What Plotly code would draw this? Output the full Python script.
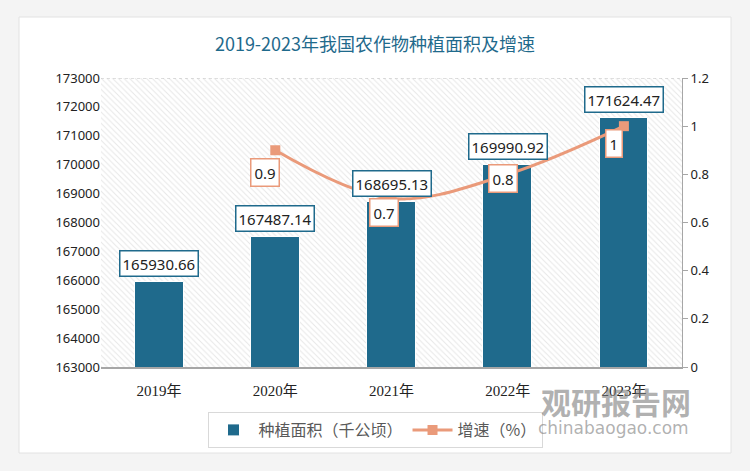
import plotly.graph_objects as go

years = ["2019年", "2020年", "2021年", "2022年", "2023年"]
area = [165930.66, 167487.14, 168695.13, 169990.92, 171624.47]
growth = [None, 0.9, 0.7, 0.8, 1]

area_name = "种植面积（千公顷）"
growth_name = "增速（%）"
title = "2019-2023年我国农作物种植面积及增速"

BLUE = "#1F6A8C"
ORANGE = "#EA9A7A"
FONT = "Noto Sans CJK SC"

# label offsets (pixels) for growth labels
g_dx = [0, -10, -8, -5, -10]
g_dy = [0, -22, -14, -4, -17]

L, R, T, B = 101, 68, 78, 104
W, H = 750, 471
pw, ph = W - L - R, H - T - B

def px(x):
    return (x - L) / pw

def py(y):
    return (H - B - y) / ph

fig = go.Figure()

# hatched plot background
fig.add_trace(go.Bar(
    x=[0.5], y=[1], width=[1], xaxis="x", yaxis="y",
    marker=dict(color="white", line=dict(width=0),
                pattern=dict(shape="\\", fgcolor="#cfcfcf", bgcolor="white", size=4, solidity=0.25)),
    showlegend=False, hoverinfo="skip",
))

fig.add_trace(go.Bar(
    x=years, y=area, name=area_name, xaxis="x2", yaxis="y2",
    width=0.42, marker=dict(color=BLUE, line=dict(color="white", width=1)),
))

fig.add_trace(go.Scatter(
    x=years, y=growth, name=growth_name, xaxis="x2", yaxis="y3",
    mode="lines+markers", line=dict(color=ORANGE, width=3, shape="spline"),
    marker=dict(symbol="square", size=10, color=ORANGE),
    connectgaps=False,
))

annotations = []
for yr, v in zip(years, area):
    annotations.append(dict(
        x=yr, y=v, xref="x2", yref="y2", text=f"{v:.2f}", showarrow=False,
        yanchor="bottom", yshift=5, font=dict(family="Noto Sans", size=15, color="#222"),
        bgcolor="white", bordercolor=BLUE, borderwidth=1.5, borderpad=2,
    ))
for i, (yr, g) in enumerate(zip(years, growth)):
    if g is None:
        continue
    annotations.append(dict(
        x=yr, y=g, xref="x2", yref="y3", text=f"{g:g}", showarrow=False,
        xshift=g_dx[i], yshift=g_dy[i], font=dict(family="Noto Sans", size=15, color="#222"),
        bgcolor="white", bordercolor=ORANGE, borderwidth=1.5, borderpad=3,
    ))
annotations.append(dict(
    x=px(616), y=py(401), xref="paper", yref="paper", text="<b>观研报告网</b>",
    xanchor="center", yanchor="middle",
    showarrow=False, font=dict(family=FONT, size=30, color="rgba(125,125,125,0.6)"),
))
annotations.append(dict(
    x=px(613), y=py(428), xref="paper", yref="paper", text="chinabaogao.com",
    xanchor="center", yanchor="middle",
    showarrow=False, font=dict(family="DejaVu Sans", size=17, color="rgba(125,125,125,0.6)"),
))

shapes = [
    dict(type="rect", xref="paper", yref="paper", x0=px(19), x1=px(731), y0=py(453), y1=py(17),
         fillcolor="white", line=dict(color="#e2e2e2", width=1), layer="below"),
    dict(type="line", xref="paper", yref="y2", x0=0, x1=1, y0=173000, y1=173000,
         line=dict(color="#bfbfbf", width=1, dash="dot")),
]

fig.update_layout(
    width=W, height=H,
    margin=dict(l=L, r=R, t=T, b=B, autoexpand=False),
    paper_bgcolor="#f4f4f4", plot_bgcolor="white",
    title=dict(text=title, x=0.5, xanchor="center", y=1 - 45 / H, yanchor="middle",
               font=dict(family=FONT, size=18, color=BLUE)),
    barmode="overlay", bargap=0,
    xaxis=dict(range=[0, 1], visible=False, fixedrange=True),
    yaxis=dict(range=[0, 1], visible=False),
    xaxis2=dict(overlaying="x", type="category", showline=True, linecolor="#a6a6a6", linewidth=2,
                ticks="", ticklabelstandoff=9,
                tickfont=dict(family="Liberation Serif, " + FONT, size=15, color="#222")),
    yaxis2=dict(overlaying="y", side="left", range=[163000, 173000], dtick=1000, showgrid=False,
                showline=False, tickfont=dict(family="Noto Sans", size=13, color="#222"),
                tickformat="d", zeroline=False),
    yaxis3=dict(overlaying="y", side="right", range=[0, 1.2], dtick=0.2, showgrid=False,
                showline=True, linecolor="#a6a6a6", linewidth=1, ticks="outside", ticklen=5,
                tickcolor="#a6a6a6", tickfont=dict(family="Noto Sans", size=13, color="#222"),
                zeroline=False),
    legend=dict(orientation="h", x=px(375), xanchor="center", y=py(412), yanchor="top",
                bordercolor="#d9d9d9", borderwidth=1, bgcolor="white", itemwidth=40,
                font=dict(family=FONT, size=16, color="#595959")),
    annotations=annotations, shapes=shapes,
)

fig.write_html("out.html", config={"displayModeBar": False},
               post_script="document.body.style.margin='0';")
